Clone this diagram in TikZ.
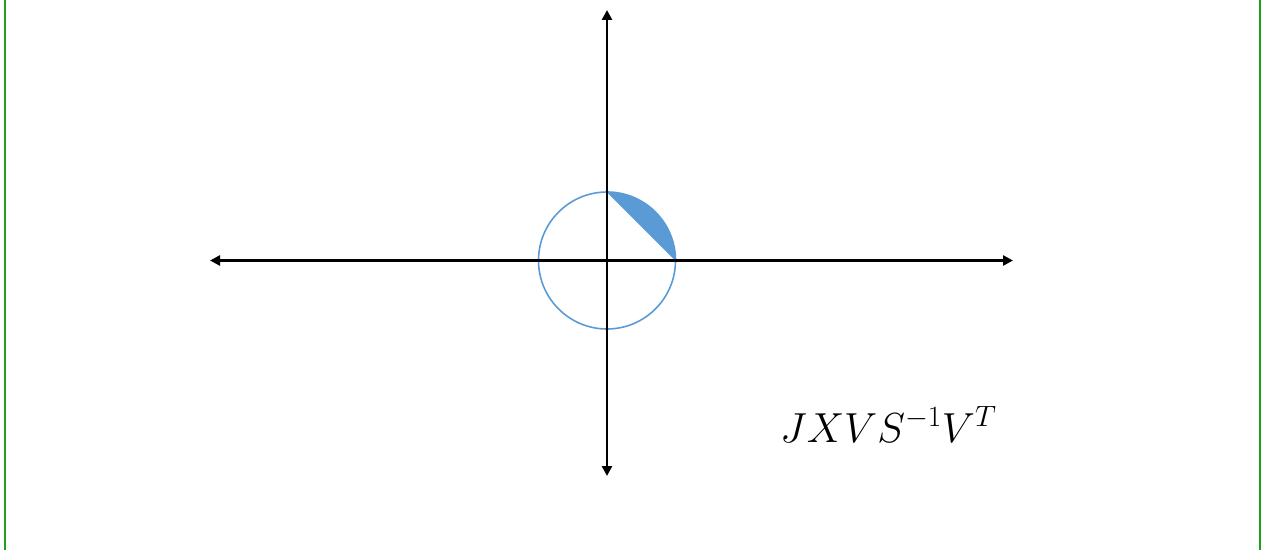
\RequirePackage{fix-cm}
\documentclass[tikz,border=0pt]{standalone}
\usetikzlibrary{arrows.meta}
\definecolor{segblue}{RGB}{91,155,213}
\definecolor{framegreen}{RGB}{30,160,30}
\tikzset{
  axis/.style={line width=2.6pt,{Triangle[length=10pt,width=10pt]}-{Triangle[length=10pt,width=10pt]}},
  frameline/.style={framegreen,line width=2pt},
  circ/.style={segblue,line width=1.6pt},
  seg/.style={fill=segblue,draw=segblue,line width=0.5pt},
  lbl/.style={font=\fontsize{42}{48}\selectfont,inner sep=0pt,anchor=base west}
}
\begin{document}
\begin{tikzpicture}[x=1pt,y=1pt]
\useasboundingbox (0,0) rectangle (1261,550);
\coordinate (O) at (607,289.5);
\coordinate (L) at (210,289.5);
\coordinate (R) at (1013,289.5);
\coordinate (T) at (607,540);
\coordinate (B) at (607,74);
\coordinate (FL1) at (5,0);
\coordinate (FL2) at (5,550);
\coordinate (FR1) at (1259.5,0);
\coordinate (FR2) at (1259.5,550);
\draw[frameline] (FL1) -- (FL2);
\draw[frameline] (FR1) -- (FR2);
\fill[seg] (O) ++(90:68.5) arc[start angle=90,end angle=0,radius=68.5] -- cycle;
\draw[circ] (O) circle[radius=68.5];
\draw[axis] (L) -- (R);
\draw[axis] (B) -- (T);
\node[lbl] (eq) at (780,108) {$JXVS^{-1}V^{T}$};
\end{tikzpicture}
\end{document}
